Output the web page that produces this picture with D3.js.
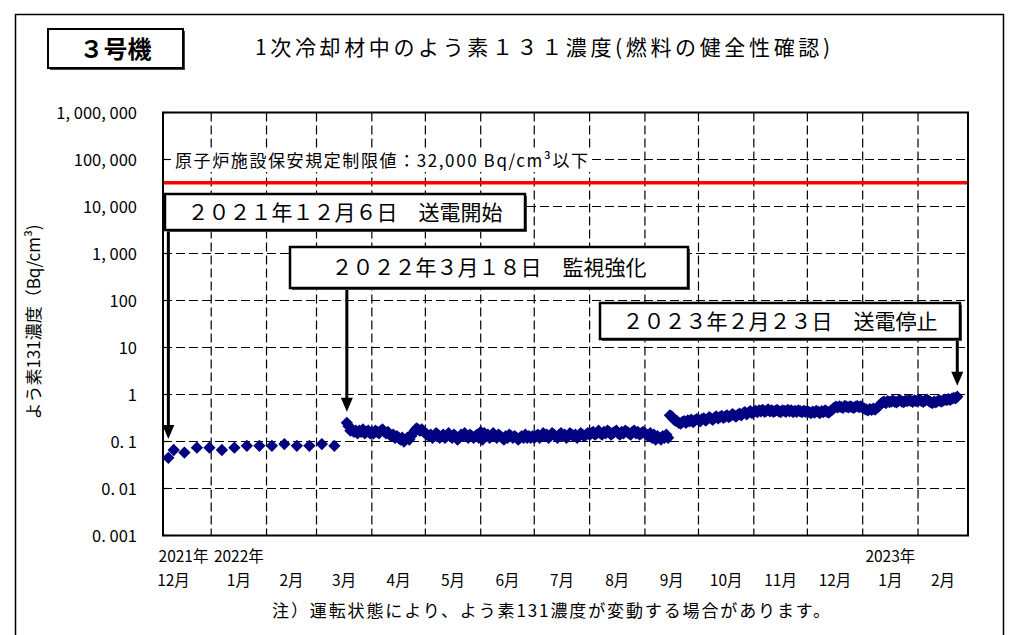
<!DOCTYPE html>
<html>
<head>
<meta charset="utf-8">
<script src="https://cdn.jsdelivr.net/npm/d3@7"></script>
<style>
  body { margin: 0; background: #fff; }
  text { font-family: "Noto Sans CJK JP", "Noto Sans", sans-serif; fill: #000; }
</style>
</head>
<body>
<div id="chart"></div>
<script>
// 週1回の測定 (送電開始〜監視強化前)
const weeklyDates = ["2021-12-08", "2021-12-11", "2021-12-17", "2021-12-24", "2021-12-31",
  "2022-01-07", "2022-01-14", "2022-01-21", "2022-01-28", "2022-02-04", "2022-02-11",
  "2022-02-18", "2022-02-25", "2022-03-04", "2022-03-11"];
const weeklyValues = [0.045, 0.066, 0.058, 0.074, 0.074, 0.066, 0.074, 0.081, 0.081, 0.081,
  0.088, 0.081, 0.081, 0.088, 0.081];

// 毎日の測定 (2022/3/18〜2023/2/23)
const dailyStart = "2022-03-18";
const mar2022 = [0.25, 0.21, 0.17, 0.18, 0.16, 0.17, 0.15, 0.17, 0.16, 0.18, 0.15, 0.16, 0.17, 0.15];
const apr2022 = [0.16, 0.15, 0.17, 0.16, 0.15, 0.17, 0.18, 0.16, 0.15, 0.16, 0.14, 0.13, 0.14, 0.12, 0.13,
  0.12, 0.11, 0.12, 0.10, 0.11, 0.12, 0.11, 0.13, 0.15, 0.17, 0.19, 0.18, 0.17, 0.18, 0.16];
const may2022 = [0.15, 0.14, 0.13, 0.14, 0.12, 0.13, 0.15, 0.14, 0.12, 0.13, 0.14, 0.12, 0.13, 0.15, 0.13,
  0.12, 0.14, 0.13, 0.11, 0.12, 0.14, 0.13, 0.15, 0.13, 0.12, 0.14, 0.13, 0.12, 0.13, 0.14, 0.12];
const jun2022 = [0.16, 0.11, 0.15, 0.13, 0.14, 0.12, 0.13, 0.15, 0.13, 0.12, 0.14, 0.13, 0.12, 0.11, 0.13,
  0.12, 0.14, 0.13, 0.12, 0.13, 0.12, 0.11, 0.12, 0.13, 0.12, 0.14, 0.12, 0.13, 0.12, 0.13];
const jul2022 = [0.12, 0.13, 0.14, 0.12, 0.13, 0.15, 0.13, 0.14, 0.12, 0.13, 0.15, 0.14, 0.13, 0.12, 0.14,
  0.15, 0.13, 0.14, 0.12, 0.13, 0.15, 0.14, 0.13, 0.14, 0.12, 0.13, 0.15, 0.14, 0.13, 0.14, 0.15];
const aug2022 = [0.14, 0.15, 0.16, 0.14, 0.15, 0.17, 0.15, 0.14, 0.16, 0.15, 0.17, 0.16, 0.14, 0.15, 0.16,
  0.17, 0.15, 0.14, 0.16, 0.15, 0.17, 0.16, 0.15, 0.14, 0.16, 0.17, 0.15, 0.16, 0.14, 0.15, 0.16];
const sep2022 = [0.15, 0.14, 0.13, 0.15, 0.12, 0.14, 0.11, 0.13, 0.12, 0.11, 0.13, 0.12, 0.14, 0.12, 0.36,
  0.34, 0.30, 0.28, 0.27, 0.25, 0.24, 0.26, 0.27, 0.25, 0.28, 0.27, 0.29, 0.26, 0.28, 0.30];
const oct2022 = [0.29, 0.27, 0.30, 0.31, 0.28, 0.30, 0.33, 0.31, 0.29, 0.32, 0.34, 0.31, 0.33, 0.35, 0.32,
  0.34, 0.36, 0.33, 0.35, 0.38, 0.36, 0.34, 0.37, 0.39, 0.36, 0.40, 0.42, 0.38, 0.41, 0.44, 0.40];
const nov2022 = [0.43, 0.45, 0.42, 0.46, 0.44, 0.47, 0.43, 0.45, 0.48, 0.44, 0.46, 0.43, 0.45, 0.47, 0.44,
  0.42, 0.46, 0.45, 0.43, 0.47, 0.44, 0.46, 0.42, 0.45, 0.43, 0.46, 0.44, 0.42, 0.45, 0.43];
const dec2022 = [0.44, 0.42, 0.40, 0.43, 0.41, 0.45, 0.43, 0.40, 0.44, 0.42, 0.46, 0.43, 0.41, 0.45, 0.48,
  0.52, 0.55, 0.53, 0.56, 0.54, 0.52, 0.57, 0.55, 0.53, 0.56, 0.54, 0.52, 0.55, 0.57, 0.54, 0.56];
const jan2023 = [0.52, 0.50, 0.48, 0.46, 0.49, 0.47, 0.50, 0.48, 0.52, 0.56, 0.62, 0.68, 0.70, 0.66, 0.72,
  0.69, 0.71, 0.74, 0.70, 0.68, 0.73, 0.75, 0.71, 0.69, 0.74, 0.72, 0.76, 0.73, 0.70, 0.75, 0.72];
const feb2023 = [0.74, 0.77, 0.72, 0.70, 0.75, 0.78, 0.73, 0.69, 0.66, 0.70, 0.68, 0.72, 0.75, 0.71, 0.74,
  0.78, 0.76, 0.80, 0.77, 0.82, 0.85, 0.83, 0.90];

const yTickValues = [0.001, 0.01, 0.1, 1, 10, 100, 1000, 10000, 100000, 1000000];
const yTickLabels = ["0. 001", "0. 01", "0. 1", "1", "10", "100", "1, 000", "10, 000", "100, 000", "1, 000, 000"];
const monthLabels = ["12月", "1月", "2月", "3月", "4月", "5月", "6月", "7月", "8月", "9月", "10月", "11月", "12月", "1月", "2月"];
const yearLabels = ["2021年", "2022年", "", "", "", "", "", "", "", "", "", "", "", "2023年", ""];

const limitValue = 32000;
const limitText = "原子炉施設保安規定制限値：32,000 Bq/cm³以下";
const annotations = [
  { text: "２０２１年１２月６日　送電開始", point: "first" },
  { text: "２０２２年３月１８日　監視強化", point: "daily" },
  { text: "２０２３年２月２３日　送電停止", point: "last" }
];

// ---- build points ----
const parse = d3.timeParse("%Y-%m-%d");
const points = weeklyDates.map((d, i) => ({ date: parse(d), value: weeklyValues[i] }));
const daily = [].concat(mar2022, apr2022, may2022, jun2022, jul2022, aug2022, sep2022,
  oct2022, nov2022, dec2022, jan2023, feb2023);
const d0 = parse(dailyStart);
daily.forEach((v, i) => points.push({ date: d3.timeDay.offset(d0, i), value: v }));

// ---- layout ----
const W = 1019, H = 635;
const plot = { left: 163, right: 968, top: 112.5, bottom: 535.5 };

const x = d3.scaleTime()
  .domain([new Date(2021, 11, 5), new Date(2023, 2, 1)])
  .range([plot.left, plot.right]);
const y = d3.scaleLog()
  .domain([0.001, 1000000])
  .range([plot.bottom, plot.top]);

const svg = d3.select("#chart").append("svg")
  .attr("width", W).attr("height", H);

svg.append("rect").attr("width", W).attr("height", H).attr("fill", "#fff");

// 外枠
svg.append("rect")
  .attr("x", 15.5).attr("y", 14.5).attr("width", 988).attr("height", 700)
  .attr("fill", "none").attr("stroke", "#000").attr("stroke-width", 1.5);

// 3号機 ボックス
svg.append("rect").attr("x", 50).attr("y", 31).attr("width", 135).attr("height", 39).attr("fill", "#444");
svg.append("rect").attr("x", 48).attr("y", 29).attr("width", 135).attr("height", 39)
  .attr("fill", "#fff").attr("stroke", "#000").attr("stroke-width", 2);
svg.append("text").attr("x", 115.5).attr("y", 57.5).attr("text-anchor", "middle")
  .attr("font-size", 24).attr("font-weight", "bold").text("３号機");

// タイトル
svg.append("text").attr("x", 255).attr("y", 55)
  .attr("font-size", 21).attr("textLength", 575).attr("lengthAdjust", "spacing")
  .text("1次冷却材中のよう素１３１濃度(燃料の健全性確認)");

// ---- grid ----
const grid = svg.append("g").attr("stroke", "#000").attr("stroke-width", 1.2).attr("stroke-dasharray", "9,4");
grid.selectAll(".hg")
  .data(yTickValues.slice(1, -1))
  .enter().append("line")
  .attr("x1", plot.left).attr("x2", plot.right)
  .attr("y1", d => y(d)).attr("y2", d => y(d));
grid.selectAll(".vg")
  .data(d3.timeMonth.range(new Date(2022, 0, 1), new Date(2023, 2, 1)))
  .enter().append("line")
  .attr("x1", d => x(d)).attr("x2", d => x(d))
  .attr("y1", plot.top).attr("y2", plot.bottom);

// 内向き目盛
svg.append("g").selectAll("line")
  .data(yTickValues)
  .enter().append("line")
  .attr("x1", plot.left).attr("x2", plot.left + 6)
  .attr("y1", d => y(d)).attr("y2", d => y(d))
  .attr("stroke", "#000").attr("stroke-width", 1.2);

// 制限値ラベル
svg.append("rect").attr("x", 171).attr("y", 149).attr("width", 421).attr("height", 23).attr("fill", "#fff");
svg.append("text").attr("x", 175).attr("y", 167)
  .attr("font-size", 17).attr("textLength", 413).attr("lengthAdjust", "spacing")
  .text(limitText);

// 制限値ライン
svg.append("line")
  .attr("x1", plot.left).attr("x2", plot.right)
  .attr("y1", y(limitValue)).attr("y2", y(limitValue))
  .attr("stroke", "#ff0000").attr("stroke-width", 3.5);

// プロット枠
svg.append("rect")
  .attr("x", plot.left).attr("y", plot.top)
  .attr("width", plot.right - plot.left).attr("height", plot.bottom - plot.top)
  .attr("fill", "none").attr("stroke", "#000").attr("stroke-width", 2);

// ---- data ----
const diamond = d3.symbol().type(d3.symbolSquare).size(76);
svg.append("g").selectAll("path")
  .data(points)
  .enter().append("path")
  .attr("d", diamond)
  .attr("transform", d => `translate(${x(d.date)},${y(d.value)}) rotate(45)`)
  .attr("fill", "#000080");

// ---- annotations ----
const boxes = [
  { x: 165, y: 194, w: 360, h: 36 },
  { x: 290, y: 247, w: 398, h: 41 },
  { x: 600, y: 303, w: 360, h: 36 }
];
annotations.forEach((a, i) => {
  const b = boxes[i];
  let p;
  if (a.point === "first") p = points[0];
  else if (a.point === "daily") p = points[weeklyDates.length];
  else p = points[points.length - 1];
  let py = y(p.value);
  if (a.point === "first") py = y(points[1].value);
  const ax = x(p.date), tip = py - 11;

  svg.append("line")
    .attr("x1", ax).attr("x2", ax).attr("y1", b.y + b.h).attr("y2", tip - 10)
    .attr("stroke", "#000").attr("stroke-width", 3);
  svg.append("path")
    .attr("d", `M${ax},${tip} L${ax - 6},${tip - 14} L${ax + 6},${tip - 14} Z`)
    .attr("fill", "#000");

  svg.append("rect").attr("x", b.x + 2).attr("y", b.y + 2).attr("width", b.w).attr("height", b.h).attr("fill", "#555");
  svg.append("rect").attr("x", b.x).attr("y", b.y).attr("width", b.w).attr("height", b.h)
    .attr("fill", "#fff").attr("stroke", "#000").attr("stroke-width", 2.5);
  svg.append("text")
    .attr("x", b.x + b.w / 2).attr("y", b.y + b.h / 2 + 7.5)
    .attr("text-anchor", "middle").attr("font-size", 21)
    .text(a.text);
});

// ---- axis labels ----
svg.append("g").selectAll("text")
  .data(yTickValues)
  .enter().append("text")
  .attr("x", 137).attr("y", d => y(d) + 6)
  .attr("text-anchor", "end").attr("font-size", 16.5)
  .text((d, i) => yTickLabels[i]);

svg.append("text")
  .attr("transform", "translate(40,322) rotate(-90)")
  .attr("text-anchor", "middle").attr("font-size", 17)
  .text("よう素131濃度（Bq/cm³)");

const months = d3.timeMonth.range(new Date(2021, 11, 1), new Date(2023, 2, 1));
const mid = d => x(new Date((d.getTime() + d3.timeMonth.offset(d, 1).getTime()) / 2));

svg.append("g").selectAll("text")
  .data(months)
  .enter().append("text")
  .attr("x", (d, i) => i === 0 ? mid(d) - 10 : mid(d)).attr("y", 586)
  .attr("text-anchor", "middle").attr("font-size", 15.5)
  .text((d, i) => monthLabels[i]);

svg.append("g").selectAll("text")
  .data(months)
  .enter().append("text")
  .attr("x", d => mid(d)).attr("y", 562)
  .attr("text-anchor", "middle").attr("font-size", 15.5)
  .text((d, i) => yearLabels[i]);

svg.append("text")
  .attr("x", 551).attr("y", 617)
  .attr("text-anchor", "middle").attr("font-size", 17)
  .attr("textLength", 558).attr("lengthAdjust", "spacing")
  .text("注）運転状態により、よう素131濃度が変動する場合があります。");
</script>
</body>
</html>
